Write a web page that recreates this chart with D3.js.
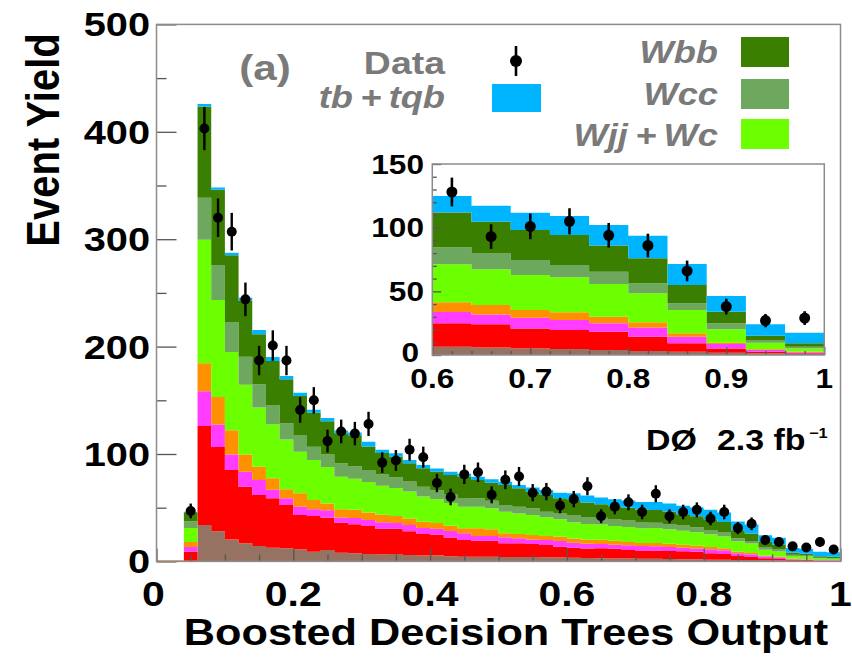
<!DOCTYPE html>
<html>
<head>
<meta charset="utf-8">
<script src="https://cdn.jsdelivr.net/npm/d3@7"></script>
<style>
  html, body { margin: 0; padding: 0; background: #fff; }
  svg { display: block; font-family: "Liberation Sans", Arial, sans-serif; font-weight: bold; }
</style>
</head>
<body>
<svg id="chart" width="852" height="659"></svg>
<script>
// Bin contents per 0.02-wide bin of the BDT output, from 0.00 to 1.00 (50 bins)
const binWidth = 0.02;
const binLow = d3.range(50).map(i => +(i * binWidth).toFixed(2));

const brown   = [0,0,0.5,34,28,20.5,17,14.3,12.8,12.2, 11.2,9,10.6,8.1,7.5,7,6.5,6.8,6,5.5, 5.8,4.8,4.4,4.4,4.3,4.2,4,4,3.8,3.6, 3.3,3.2,3,2.8,2.7,2.5,2.4,2.3,2,1.9, 1.6,1.5,1.4,1.2,1,0.8,0.7,0.6,0.4,0.4];
const red     = [0,0,8.5,92,78.5,64.5,52.5,47.5,46,40.3, 32,33.3,30,28,27,26,24,23.5,22,20, 19,17.5,15.5,14.9,15,12.6,12.8,12.2,11.5,10.1, 9.5,8.9,9.3,9,8,7.7,7.6,7.3,7.4,7, 6,5.3,3.6,3,1.9,1.5,0.7,0.6,0.3,0.2];
const magenta = [0,0,4.3,32.5,21,14.5,14,14,7.8,6.2, 7.7,6.2,7.1,4.7,6,5.5,6,5.5,6,5.5, 5.5,6,6.2,4.3,4.3,5.6,4.7,4.3,4.6,5.3, 4.6,4.3,4,3.8,4.3,4.1,4,3.9,3.4,3.2, 3.6,3.5,2.7,2.5,1.8,1.6,0.7,0.6,0.4,0.4];
const orange  = [0,0,4.7,26,25.5,22.5,16,12.4,10.8,8.4, 12.5,8.7,6.3,7.8,7.5,7,7,6.5,6,6, 5.5,5,4.7,7.2,6.3,3.7,4,4.1,3.7,4, 3.9,3.7,3.8,3.6,3.1,2.9,3.1,2.9,2.7,2.5, 2.2,2,1.4,1.2,0.6,0.5,0.3,0.3,0.3,0.2];
const wjj     = [0,0,13,115,90.5,73,65,55,50.3,46.5, 38.7,37.2,34,30.3,29,28.5,27,26,25,23.5, 22,21,20,20.1,19.5,20.2,19.2,18.6,17.4,16.2, 15.1,14.7,14.2,13.8,13.9,13.6,13.9,13.6,13.1,12.6, 11.8,10.9,9.6,8.7,5.6,4.9,2.7,2.5,1.3,1.3];
const wcc     = [0,0,6.3,39,32.5,28,26,21.7,18,15, 15.6,12.4,11.5,12.5,11.5,11,10.5,10,9.5,9, 8.5,8,7.8,7.8,7.1,6.2,6.2,6.2,5.3,5.5, 6.8,6.6,6.4,6.1,6,5.8,4.9,4.8,4.9,4.7, 4.1,3.8,2.8,2.5,2.5,2.2,1.1,1,0.7,0.6];
const wbb     = [0,0,8.5,85,70,62,52.5,46.5,41,41, 36.3,31.6,31,28,29,22,20,19.3,17,17.2, 17.3,18.2,20.4,17.1,16.8,18.6,17.1,15.5,15.5,14, 14,13.4,12.6,12.3,11.9,11.7,11.9,11.6,10.4,10.1, 10,9.6,7.5,6.9,4.8,4.3,1.8,1.6,1.4,1.3];
const tb      = [0,0,0.5,2.5,2.2,2.4,2.5,4,3.7,3, 3,2.8,3,2.5,2.5,4.5,3,3,3,3, 3,3,2.5,3,3.1,3.1,3.1,4,4.7,5.3, 6.3,6.6,6.2,6.4,6.7,6.9,7.4,7.6,8,8.2, 8.8,9,8.2,8.3,6.1,6.2,4.4,4.5,4.1,4.2];
const dataCounts = [null,null,47,403,320,307,244,187,201,187, 141,150,112,121,119,128,92,94,104,97, 73,60,81,83,62,76,79,64,65,52, 58,70,42,51,55,46,63,42,46,48, 40,46,31,35,20,18,14,13,18,11];

// Tick labels
const mainYTicks = [0, 100, 200, 300, 400, 500];
const mainXTicks = [0, 0.2, 0.4, 0.6, 0.8, 1];
const mainXLabels = ["0", "0.2", "0.4", "0.6", "0.8", "1"];
const insetYTicks = [0, 50, 100, 150];
const insetXTicks = [0.6, 0.7, 0.8, 0.9, 1];
const insetXLabels = ["0.6", "0.7", "0.8", "0.9", "1"];

const keys = ["brown", "red", "magenta", "orange", "wjj", "wcc", "wbb", "tb"];
const colors = {
  brown: "#957262", red: "#ff0000", magenta: "#ff3cff", orange: "#ff9000",
  wjj: "#6cff00", wcc: "#6ea85e", wbb: "#3b7f00", tb: "#00b5ff"
};
const series = { brown, red, magenta, orange, wjj, wcc, wbb, tb };

const rows = binLow.map((lo, i) => {
  const r = { lo, hi: lo + binWidth, data: dataCounts[i] };
  keys.forEach(k => r[k] = series[k][i]);
  return r;
});

// Inset: the 0.6-1.0 region rebinned into 0.04-wide bins
const insetRows = d3.range(10).map(j => {
  const a = rows[30 + 2 * j], b = rows[31 + 2 * j];
  const r = { lo: a.lo, hi: b.hi, data: a.data + b.data };
  keys.forEach(k => r[k] = a[k] + b[k]);
  return r;
});

const STRETCH = 1.17;   // horizontal stretch of the lettering
const svg = d3.select("#chart");

function stext(parent, str, x, y, size, anchor, opts = {}) {
  const t = parent.append("text")
    .attr("transform", `translate(${x},${y}) scale(${STRETCH},1)` + (opts.rotate ? ` rotate(${opts.rotate})` : ""))
    .attr("text-anchor", anchor)
    .attr("font-size", size)
    .attr("fill", opts.color || "#000")
    .text(str);
  if (opts.italic) t.attr("font-style", "italic");
  return t;
}

function drawStack(g, data, xs, ys) {
  const stacked = d3.stack().keys(keys)(data);
  const area = d3.area()
    .curve(d3.curveStepAfter)
    .x(d => xs(d.x))
    .y0(d => ys(d.v0))
    .y1(d => ys(d.v1));
  stacked.forEach(s => {
    const pts = s.map((d, i) => ({ x: data[i].lo, v0: d[0], v1: d[1] }));
    const last = pts[pts.length - 1];
    pts.push({ x: data[data.length - 1].hi, v0: last.v0, v1: last.v1 });
    g.append("path")
      .attr("d", area(pts))
      .attr("fill", colors[s.key])
      .attr("stroke", "none");
  });
}

function drawData(g, data, xs, ys, r, lw) {
  const pts = data.filter(d => d.data != null);
  g.selectAll("line.err").data(pts).join("line")
    .attr("x1", d => xs((d.lo + d.hi) / 2)).attr("x2", d => xs((d.lo + d.hi) / 2))
    .attr("y1", d => ys(d.data - Math.sqrt(d.data)))
    .attr("y2", d => ys(d.data + Math.sqrt(d.data)))
    .attr("stroke", "#000").attr("stroke-width", lw);
  g.selectAll("circle.pt").data(pts).join("circle")
    .attr("cx", d => xs((d.lo + d.hi) / 2))
    .attr("cy", d => ys(d.data))
    .attr("r", r).attr("fill", "#000");
}

function tickAxis(g, axisFn, scale, values, size) {
  g.call(axisFn(scale).tickValues(values).tickSize(size).tickFormat(""))
    .call(a => a.select(".domain").remove())
    .call(a => a.selectAll("line").attr("stroke", "#555").attr("stroke-width", 1.3));
}

// ---------------- main panel ----------------
const x = d3.scaleLinear([0, 1], [156.5, 840.5]);
const y = d3.scaleLinear([0, 500], [561.4, 24.4]);

const main = svg.append("g");
drawStack(main, rows, x, y);
// empty low bins outlined along the baseline
main.append("line")
  .attr("x1", x(0)).attr("x2", x(0.04)).attr("y1", y(0) - 0.5).attr("y2", y(0) - 0.5)
  .attr("stroke", "#e8a25a").attr("stroke-width", 1.5);

// axis ticks, drawn inward
const yMinor = d3.range(0, 501, 50).filter(v => v % 100 !== 0);
const xMinor = d3.range(0, 1.0001, 0.05).map(v => +v.toFixed(2)).filter(v => Math.abs(v * 5 - Math.round(v * 5)) > 1e-6);
tickAxis(main.append("g").attr("transform", `translate(${x(0)},0)`), d3.axisLeft, y, mainYTicks, -20);
tickAxis(main.append("g").attr("transform", `translate(${x(0)},0)`), d3.axisLeft, y, yMinor, -10);
tickAxis(main.append("g").attr("transform", `translate(0,${y(0)})`), d3.axisBottom, x, mainXTicks, -13);
tickAxis(main.append("g").attr("transform", `translate(0,${y(0)})`), d3.axisBottom, x, xMinor, -7);

drawData(main, rows, x, y, 5, 2.4);

main.append("rect")
  .attr("x", x(0)).attr("y", y(500))
  .attr("width", x(1) - x(0)).attr("height", y(0) - y(500))
  .attr("fill", "none").attr("stroke", "#8c8c8c").attr("stroke-width", 1.5);

// axis labels
mainYTicks.forEach(v => stext(svg, String(v), 150, y(v) + 12, 34, "end"));
mainXTicks.forEach((v, i) => stext(svg, mainXLabels[i], x(v) - (v === 0 ? 3 : 0), 606, 35, "middle"));
stext(svg, "Boosted Decision Trees Output", 506, 645, 37, "middle");
stext(svg, "Event Yield", 59, 140, 40, "middle", { rotate: -90 });

// ---------------- legend ----------------
const grey = "#7a7a7a";
stext(svg, "(a)", 265, 80, 36, "middle", { color: grey });
stext(svg, "Data", 445, 74, 32, "end", { color: grey });
svg.append("line").attr("x1", 516).attr("x2", 516).attr("y1", 46).attr("y2", 76)
  .attr("stroke", "#000").attr("stroke-width", 2.6);
svg.append("circle").attr("cx", 516).attr("cy", 61).attr("r", 6).attr("fill", "#000");
stext(svg, "tb\u2009+\u2009tqb", 445, 108, 31, "end", { color: grey, italic: true });
svg.append("rect").attr("x", 492).attr("y", 84).attr("width", 49).attr("height", 28).attr("fill", colors.tb);

const legendRight = [
  { label: "Wbb", key: "wbb", base: 63, top: 37 },
  { label: "Wcc", key: "wcc", base: 105, top: 79 },
  { label: "Wjj\u2009+\u2009Wc", key: "wjj", base: 146, top: 119 }
];
legendRight.forEach(d => {
  stext(svg, d.label, 718, d.base, 31, "end", { color: grey, italic: true });
  svg.append("rect").attr("x", 741).attr("y", d.top).attr("width", 48).attr("height", 30).attr("fill", colors[d.key]);
});

// ---------------- inset ----------------
const xi = d3.scaleLinear([0.6, 1], [432.3, 824.3]);
const yi = d3.scaleLinear([0, 150], [355, 164]);
const inset = svg.append("g");
inset.append("rect").attr("x", xi(0.6)).attr("y", yi(150))
  .attr("width", xi(1) - xi(0.6)).attr("height", yi(0) - yi(150)).attr("fill", "#fff");
drawStack(inset, insetRows, xi, yi);
const yiMinor = d3.range(0, 151, 10).filter(v => v % 50 !== 0);
const xiMinor = d3.range(0.6, 1.0001, 0.02).map(v => +v.toFixed(2)).filter(v => Math.abs(v * 10 - Math.round(v * 10)) > 1e-6);
tickAxis(inset.append("g").attr("transform", `translate(${xi(0.6)},0)`), d3.axisLeft, yi, insetYTicks, -9);
tickAxis(inset.append("g").attr("transform", `translate(${xi(0.6)},0)`), d3.axisLeft, yi, yiMinor, -4.5);
tickAxis(inset.append("g").attr("transform", `translate(0,${yi(0)})`), d3.axisBottom, xi, insetXTicks, -8);
tickAxis(inset.append("g").attr("transform", `translate(0,${yi(0)})`), d3.axisBottom, xi, xiMinor, -4);
drawData(inset, insetRows, xi, yi, 5.5, 2.6);
inset.append("rect").attr("x", xi(0.6)).attr("y", yi(150))
  .attr("width", xi(1) - xi(0.6)).attr("height", yi(0) - yi(150))
  .attr("fill", "none").attr("stroke", "#8c8c8c").attr("stroke-width", 1.5);

insetYTicks.forEach(v => stext(svg, String(v), v === 0 ? 419 : 424, yi(v) + (v === 0 ? 7 : 9.5), 27, "end"));
insetXTicks.forEach((v, i) => stext(svg, insetXLabels[i], xi(v), 388, 27, "middle"));

// ---------------- experiment label ----------------
stext(svg, "D\u00d8", 646, 450, 29, "start");
stext(svg, "2.3 fb", 717, 450, 29, "start");
stext(svg, "\u22121", 809, 438, 14, "start");
</script>
</body>
</html>
